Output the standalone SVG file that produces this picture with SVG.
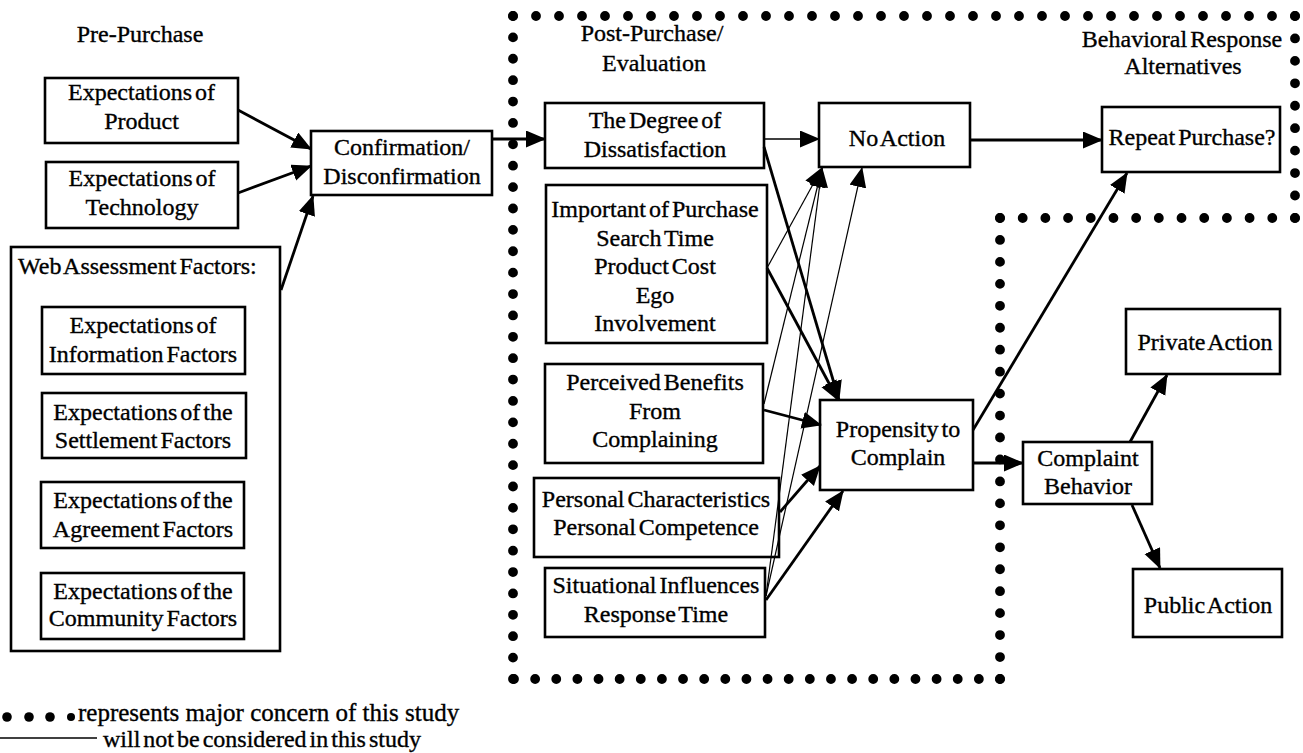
<svg xmlns="http://www.w3.org/2000/svg" width="1303" height="753" viewBox="0 0 1303 753">
<style>
.box{fill:#fff;stroke:#000;stroke-width:2.6}
.t{font-family:"Liberation Serif","Times New Roman",serif;font-size:24px;word-spacing:-3px;fill:#000;stroke:#000;stroke-width:0.35;text-anchor:middle}
.s{text-anchor:start}
.thick{stroke:#000;stroke-width:2.8;fill:none;marker-end:url(#ah)}
.thin{stroke:#000;stroke-width:1.2;fill:none;marker-end:url(#ah)}
.mid{stroke:#000;stroke-width:1.6;fill:none;marker-end:url(#ah)}
.dots{stroke:#000;stroke-width:9.8;stroke-linecap:round;fill:none}
</style>
<defs>
<marker id="ah" markerUnits="userSpaceOnUse" markerWidth="22" markerHeight="18" refX="19" refY="8.5" orient="auto">
<path d="M0,0 L20,8.5 L0,17 z" fill="#000"/>
</marker>
</defs>
<rect width="1303" height="753" fill="#fff"/>

<g id="study-boundary">
<line class="dots" x1="513" y1="16" x2="1296" y2="16" stroke-dasharray="0 23"/>
<line class="dots" x1="513" y1="16" x2="513" y2="680" stroke-dasharray="0 21.387"/>
<line class="dots" x1="514" y1="679" x2="1001" y2="679" stroke-dasharray="0 21.13"/>
<line class="dots" x1="1000" y1="218" x2="1000" y2="680" stroke-dasharray="0 21.952"/>
<line class="dots" x1="1000" y1="218" x2="1296" y2="218" stroke-dasharray="0 22.69"/>
<line class="dots" x1="1295" y1="16" x2="1295" y2="219" stroke-dasharray="0 22.44"/>
</g>

<g id="section-labels">
<text class="t" x="140" y="42">Pre-Purchase</text>
<text class="t" x="652" y="41">Post-Purchase/</text>
<text class="t" x="654" y="71">Evaluation</text>
<text class="t" x="1182" y="47">Behavioral Response</text>
<text class="t" x="1183" y="74">Alternatives</text>
</g>

<g id="exp-product">
<rect class="box" x="45" y="78" width="193" height="65"/>
<text class="t" x="141.5" y="100">Expectations of</text>
<text class="t" x="141.5" y="129">Product</text>
</g>
<g id="exp-technology">
<rect class="box" x="46" y="162" width="192" height="66"/>
<text class="t" x="142" y="186">Expectations of</text>
<text class="t" x="142" y="215">Technology</text>
</g>
<g id="web-assessment">
<rect class="box" x="11" y="247" width="269" height="404"/>
<text class="t s" x="18" y="274">Web Assessment Factors:</text>
</g>
<g id="exp-information">
<rect class="box" x="42" y="307" width="203" height="67"/>
<text class="t" x="143" y="333">Expectations of</text>
<text class="t" x="143" y="362">Information Factors</text>
</g>
<g id="exp-settlement">
<rect class="box" x="42" y="393" width="204" height="65"/>
<text class="t" x="143" y="420">Expectations of the</text>
<text class="t" x="143" y="448">Settlement Factors</text>
</g>
<g id="exp-agreement">
<rect class="box" x="41" y="482" width="203" height="66"/>
<text class="t" x="143" y="508">Expectations of the</text>
<text class="t" x="143" y="537">Agreement Factors</text>
</g>
<g id="exp-community">
<rect class="box" x="41" y="573" width="203" height="66"/>
<text class="t" x="143" y="599">Expectations of the</text>
<text class="t" x="143" y="626">Community Factors</text>
</g>
<g id="confirmation">
<rect class="box" x="311" y="131" width="181" height="64"/>
<text class="t" x="402" y="155">Confirmation/</text>
<text class="t" x="402" y="184">Disconfirmation</text>
</g>
<g id="dissatisfaction">
<rect class="box" x="545" y="103" width="219" height="65"/>
<text class="t" x="655" y="128">The Degree of</text>
<text class="t" x="655" y="157">Dissatisfaction</text>
</g>
<g id="importance">
<rect class="box" x="546" y="185" width="221" height="158"/>
<text class="t" x="655" y="217">Important of Purchase</text>
<text class="t" x="655" y="245.5">Search Time</text>
<text class="t" x="655" y="274">Product Cost</text>
<text class="t" x="655" y="302.5">Ego</text>
<text class="t" x="655" y="331">Involvement</text>
</g>
<g id="perceived-benefits">
<rect class="box" x="545" y="364" width="218" height="99"/>
<text class="t" x="655" y="390">Perceived Benefits</text>
<text class="t" x="655" y="419">From</text>
<text class="t" x="655" y="447">Complaining</text>
</g>
<g id="personal">
<rect class="box" x="534" y="478" width="245" height="79"/>
<text class="t" x="656" y="507">Personal Characteristics</text>
<text class="t" x="656" y="535">Personal Competence</text>
</g>
<g id="situational">
<rect class="box" x="545" y="568" width="220" height="69"/>
<text class="t" x="656" y="593">Situational Influences</text>
<text class="t" x="656" y="622">Response Time</text>
</g>
<g id="no-action">
<rect class="box" x="819" y="103" width="151" height="64"/>
<text class="t" x="897" y="146">No Action</text>
</g>
<g id="propensity">
<rect class="box" x="820" y="400" width="153" height="90"/>
<text class="t" x="898" y="437">Propensity to</text>
<text class="t" x="898" y="465">Complain</text>
</g>
<g id="repeat-purchase">
<rect class="box" x="1102" y="107" width="178" height="65"/>
<text class="t" x="1192" y="145">Repeat Purchase?</text>
</g>
<g id="complaint-behavior">
<rect class="box" x="1023" y="442" width="129" height="62"/>
<text class="t" x="1088" y="466">Complaint</text>
<text class="t" x="1088" y="494">Behavior</text>
</g>
<g id="private-action">
<rect class="box" x="1126" y="309" width="154" height="65"/>
<text class="t" x="1205" y="350">Private Action</text>
</g>
<g id="public-action">
<rect class="box" x="1133" y="569" width="149" height="68"/>
<text class="t" x="1208" y="613">Public Action</text>
</g>

<g id="connectors">
<line class="thick" x1="238" y1="110" x2="311" y2="149"/>
<line class="thick" x1="238" y1="193" x2="311" y2="166"/>
<line class="thick" x1="281" y1="290" x2="313" y2="196"/>
<line class="thick" x1="492" y1="139" x2="545" y2="139"/>
<line class="mid" x1="764" y1="139" x2="819" y2="139"/>
<line class="thick" x1="970" y1="140" x2="1102" y2="140"/>
<line class="thick" x1="764" y1="147" x2="839" y2="400"/>
<line class="thick" x1="767" y1="268" x2="838" y2="400"/>
<line class="thin" x1="767" y1="268" x2="822" y2="168"/>
<line class="thin" x1="764" y1="404" x2="822" y2="168"/>
<line class="thin" x1="766" y1="596" x2="822" y2="168"/>
<line class="thin" x1="766" y1="596" x2="862" y2="168"/>
<line class="thick" x1="764" y1="410" x2="821" y2="425"/>
<line class="thick" x1="780" y1="512" x2="820" y2="466"/>
<line class="thick" x1="766" y1="600" x2="843" y2="491"/>
<line class="thick" x1="973" y1="430" x2="1127" y2="173"/>
<line class="thick" x1="973" y1="463" x2="1023" y2="463"/>
<line class="thick" x1="1130" y1="442" x2="1167" y2="375"/>
<line class="thick" x1="1132" y1="505" x2="1160" y2="568"/>
</g>

<g id="legend">
<circle cx="7" cy="717" r="4.8"/>
<circle cx="29" cy="717" r="4.8"/>
<circle cx="50" cy="717" r="4.8"/>
<circle cx="71" cy="717" r="4"/>
<text class="t s" x="78" y="721" style="font-size:25px;word-spacing:0">represents major concern of this study</text>
<line x1="0" y1="738" x2="97" y2="738" stroke="#000" stroke-width="1.5"/>
<text class="t s" x="103" y="747" style="word-spacing:-3px">will not be considered in this study</text>
</g>
</svg>
